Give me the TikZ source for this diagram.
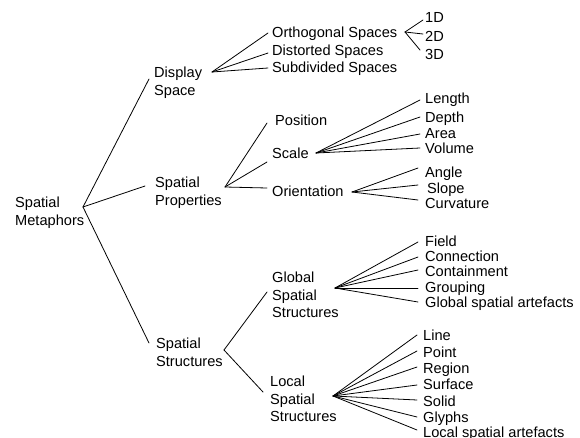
\documentclass[tikz,border=0pt]{standalone}
\usepackage{fontspec}
\setmainfont{Liberation Sans}
\begin{document}
\begin{tikzpicture}[x=1pt,y=-1pt,
 lbl/.style={inner sep=0pt, anchor=west, font=\fontsize{14.6}{17.5}\selectfont, text height=10.5pt, text depth=0pt},
 mlbl/.style={inner sep=0pt, anchor=north west, align=left, font=\fontsize{14.6}{17.5}\selectfont},
 tline/.style={line width=0.8pt, line cap=round}]
\useasboundingbox (0,0) rectangle (580,438);
% level 0 and 1
\node[mlbl] (root) at (15,196.75) {Spatial\\Metaphors};
\node[mlbl] (disp) at (154,66.75) {Display\\Space};
\node[mlbl] (prop) at (155,176.75) {Spatial\\Properties};
\node[mlbl] (struc) at (156,337.75) {Spatial\\Structures};
% display space children
\node[lbl] (orth) at (272,32) {Orthogonal Spaces};
\node[lbl] (dist) at (272,50) {Distorted Spaces};
\node[lbl] (subd) at (272,67) {Subdivided Spaces};
\node[lbl] (d1) at (425,17) {1D};
\node[lbl] (d2) at (425,36) {2D};
\node[lbl] (d3) at (425,54) {3D};
% properties children
\node[lbl] (pos) at (275,120) {Position};
\node[lbl] (scale) at (272,153) {Scale};
\node[lbl] (orient) at (272,191) {Orientation};
\node[lbl] (len) at (425,98) {Length};
\node[lbl] (dep) at (425,117) {Depth};
\node[lbl] (area) at (425,133) {Area};
\node[lbl] (vol) at (425,148) {Volume};
\node[lbl] (ang) at (425,172) {Angle};
\node[lbl] (slope) at (427,188) {Slope};
\node[lbl] (curv) at (425,203) {Curvature};
% structures children
\node[mlbl] (glob) at (272,271.75) {Global\\Spatial\\Structures};
\node[mlbl] (loc) at (270,375.75) {Local\\Spatial\\Structures};
\node[lbl] (field) at (425,241) {Field};
\node[lbl] (connx) at (425,256) {Connection};
\node[lbl] (cont) at (425,271) {Containment};
\node[lbl] (grp) at (425,287) {Grouping};
\node[lbl] (gsa) at (425,302) {Global spatial artefacts};
\node[lbl] (nline) at (423,335) {Line};
\node[lbl] (point) at (423,352) {Point};
\node[lbl] (region) at (423,368) {Region};
\node[lbl] (surf) at (423,384) {Surface};
\node[lbl] (solid) at (423,401) {Solid};
\node[lbl] (glyph) at (423,417) {Glyphs};
\node[lbl] (lsa) at (423,432) {Local spatial artefacts};
% junctions
\coordinate (jroot) at (83,207);
\coordinate (jdisp) at (212,72);
\coordinate (jorth) at (405,32);
\coordinate (jprop) at (225,187);
\coordinate (jscale) at (316,153);
\coordinate (jori) at (352,192);
\coordinate (jstruc) at (224,350);
\coordinate (jglob) at (335,288);
\coordinate (jloc) at (333,396);
% connectors
\draw[tline] (jroot) -- ([shift={(-5,12.25)}]disp.north west);
\draw[tline] (jroot) -- ([shift={(-10,9.25)}]prop.north west);
\draw[tline] (jroot) -- ([shift={(-7,5.25)}]struc.north west);
\draw[tline] (jdisp) -- ([shift={(-4,1)}]orth.west);
\draw[tline] (jdisp) -- ([shift={(-4,3)}]dist.west);
\draw[tline] (jdisp) -- ([shift={(-4,1)}]subd.west);
\draw[tline] (jorth) -- ([shift={(-2,3)}]d1.west);
\draw[tline] (jorth) -- ([shift={(-2,-2)}]d2.west);
\draw[tline] (jorth) -- ([shift={(-5,-4)}]d3.west);
\draw[tline] (jprop) -- ([shift={(-8,3)}]pos.west);
\draw[tline] (jprop) -- ([shift={(-5,9)}]scale.west);
\draw[tline] (jprop) -- ([shift={(-5,-3)}]orient.west);
\draw[tline] (jscale) -- ([shift={(-5,2)}]len.west);
\draw[tline] (jscale) -- ([shift={(-5,0)}]dep.west);
\draw[tline] (jscale) -- ([shift={(-5,1)}]area.west);
\draw[tline] (jscale) -- ([shift={(-5,0)}]vol.west);
\draw[tline] (jori) -- ([shift={(-7,-4)}]ang.west);
\draw[tline] (jori) -- ([shift={(-9,-3)}]slope.west);
\draw[tline] (jori) -- ([shift={(-7,-3)}]curv.west);
\draw[tline] (jstruc) -- ([shift={(-5,20.25)}]glob.north west);
\draw[tline] (jstruc) -- ([shift={(-7,16.25)}]loc.north west);
\draw[tline] (jglob) -- ([shift={(-7,1)}]field.west);
\draw[tline] (jglob) -- ([shift={(-7,1)}]connx.west);
\draw[tline] (jglob) -- ([shift={(-7,-1)}]cont.west);
\draw[tline] (jglob) -- ([shift={(-7,1)}]grp.west);
\draw[tline] (jglob) -- ([shift={(-7,0)}]gsa.west);
\draw[tline] (jloc) -- ([shift={(-6,0)}]nline.west);
\draw[tline] (jloc) -- ([shift={(-6,-1)}]point.west);
\draw[tline] (jloc) -- ([shift={(-6,-1)}]region.west);
\draw[tline] (jloc) -- ([shift={(-6,1)}]surf.west);
\draw[tline] (jloc) -- ([shift={(-6,-1)}]solid.west);
\draw[tline] (jloc) -- ([shift={(-6,0)}]glyph.west);
\draw[tline] (jloc) -- ([shift={(-6,-2)}]lsa.west);
\end{tikzpicture}
\end{document}
